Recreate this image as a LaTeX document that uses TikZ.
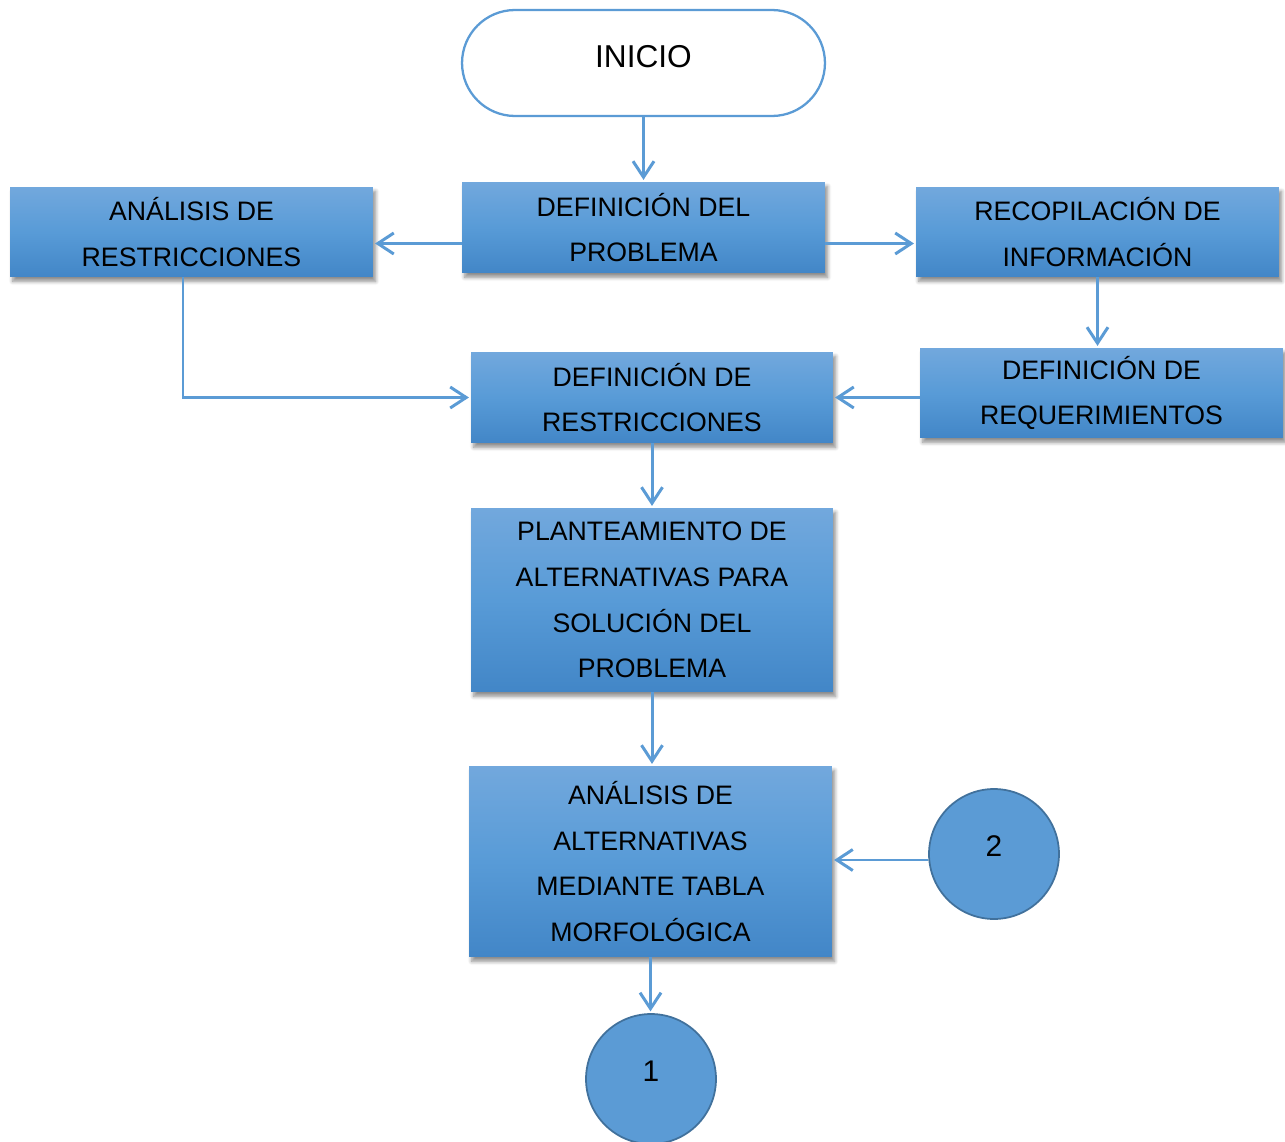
\documentclass[tikz,border=0pt]{standalone}
\usepackage{fontspec}
\setmainfont{Liberation Sans}
\usetikzlibrary{arrows.meta,shadows.blur}
\definecolor{boxtop}{RGB}{114,168,221}
\definecolor{boxmid}{RGB}{88,155,215}
\definecolor{boxbot}{RGB}{66,134,199}
\definecolor{arrowblue}{RGB}{91,155,213}
\definecolor{ringblue}{RGB}{65,113,156}

\begin{document}
\begin{tikzpicture}[x=0.02cm,y=-0.02cm,
  stepbox/.style={rectangle,minimum width=7.26cm,minimum height=1.82cm,align=center,
    top color=boxtop,bottom color=boxbot,middle color=boxmid,font=\fontsize{15.2}{26}\selectfont,
    blur shadow={shadow xshift=1.5pt,shadow yshift=-2.5pt,shadow blur steps=6,shadow opacity=45}},
  link/.style={-{Straight Barb[length=3.2mm,width=4.2mm]},line width=1.7pt,arrowblue,shorten >=1pt},
  connector/.style={circle,minimum size=2.6cm,fill=arrowblue,draw=ringblue,line width=1pt,
    text depth=0.32cm,font=\fontsize{17}{20}\selectfont}]
\useasboundingbox (0,0) rectangle (1285,1142);
% \draw[help lines] (0,0) grid (1285,1142);
\node (inicio) [rectangle,rounded corners=1.06cm,draw=arrowblue,line width=1.3pt,minimum width=7.26cm,
  minimum height=2.12cm,text depth=0.28cm,font=\fontsize{18}{22}\selectfont] at (643.5,63) {INICIO};
\node (defprob) [stepbox] at (643.5,227.5) {DEFINICIÓN DEL\\PROBLEMA};
\node (analres) [stepbox,minimum height=1.8cm] at (191.5,232) {ANÁLISIS DE\\RESTRICCIONES};
\node (recop) [stepbox,minimum height=1.8cm] at (1097.5,232) {RECOPILACIÓN DE\\INFORMACIÓN};
\node (defreq) [stepbox,minimum height=1.8cm] at (1101.5,393) {DEFINICIÓN DE\\REQUERIMIENTOS};
\node (defres) [stepbox,minimum width=7.24cm] at (652,397.5) {DEFINICIÓN DE\\RESTRICCIONES};
\node (plant) [stepbox,minimum width=7.24cm,minimum height=3.68cm] at (652,600)
  {PLANTEAMIENTO DE\\ALTERNATIVAS PARA\\SOLUCIÓN DEL\\PROBLEMA};
\node (analalt) [stepbox,minimum height=3.82cm] at (650.5,861.5)
  {ANÁLISIS DE\\ALTERNATIVAS\\MEDIANTE TABLA\\MORFOLÓGICA};
\node (c2) [connector] at (994,854) {2};
\node (c1) [connector] at (651,1079) {1};
%
\draw[link] (inicio) -- (defprob);
\draw[link] ([yshift=-0.32cm]defprob.west) -- ([yshift=-0.32cm]defprob.west -| analres.east);
\draw[link] ([yshift=-0.32cm]defprob.east) -- ([yshift=-0.32cm]defprob.east -| recop.west);
\draw[link] (recop.south) -- (recop.south |- defreq.north);
\draw[link] (defreq.west |- defres.east) -- (defres.east);
\draw[link] ([xshift=-0.17cm]analres.south) |- (defres.west);
\draw[link] (defres) -- (plant);
\draw[link] (plant.south) -- (plant.south |- analalt.north);
\draw[link] ([yshift=-0.12cm]c2.west) -- ([yshift=-0.12cm]c2.west -| analalt.east);
\draw[link] (analalt.south) -- (analalt.south |- c1.north);
\end{tikzpicture}
\end{document}
